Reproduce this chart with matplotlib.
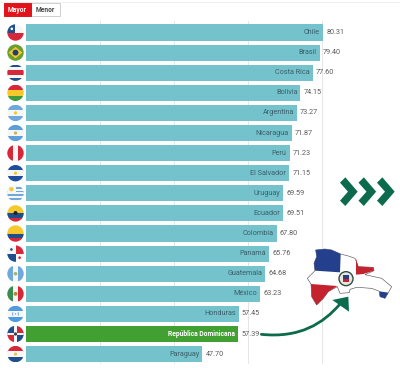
import matplotlib
matplotlib.use("Agg")
import matplotlib.pyplot as plt
from matplotlib.patches import Circle, Rectangle, Polygon, PathPatch
from matplotlib.path import Path

plt.rcParams['font.family'] = ['Roboto', 'DejaVu Sans']

countries = ["Chile", "Brasil", "Costa Rica", "Bolivia", "Argentina", "Nicaragua", "Perú",
             "El Salvador", "Uruguay", "Ecuador", "Colombia", "Panamá", "Guatemala", "México",
             "Honduras", "República Dominicana", "Paraguay"]
values = [80.31, 79.40, 77.60, 74.15, 73.27, 71.87, 71.23, 71.15, 69.59, 69.51, 67.80,
          65.76, 64.68, 63.23, 57.45, 57.39, 47.70]
highlight = "República Dominicana"
gridlines = [20, 40, 60, 80]
buttons = ["Mayor", "Menor"]

BAR = "#74c2cb"
GREEN = "#42a032"
ARROW = "#0c6b4c"
LABEL = "#3c5f6a"
VALUE = "#5b5b5b"
LB = "#6fa8dc"
BL = "#1f4e8c"
RD = "#d62839"
YL = "#f5c92e"
GR = "#3f9b3c"
WH = "#f6f6f6"

fig = plt.figure(figsize=(4.0, 3.68), dpi=100, facecolor="white")

# chart axes: value 0 sits at pixel 26, 3.7 px per unit; rows every 20.1 px from 32.5
PX = 3.70
ROW = 20.1
ax = fig.add_axes([0, 0, 1, 1])
ax.set_xlim(-26 / PX, (400 - 26) / PX)
ax.set_ylim((368 - 32.5) / ROW, -32.5 / ROW)
ax.axis("off")

for g in gridlines:
    ax.plot([g, g], [-0.55, 16.45], color="#e6e6e6", lw=0.7, zorder=1)

colors = [GREEN if c == highlight else BAR for c in countries]
ax.barh(range(len(countries)), values, height=0.8, color=colors, zorder=2)

for i, (c, v) in enumerate(zip(countries, values)):
    hl = c == highlight
    ax.annotate(c, (v, i), xytext=(-2.2, 0), textcoords="offset points", ha="right", va="center",
                fontsize=4.9 if hl else 5.2, color="white" if hl else LABEL,
                fontweight="bold" if hl else "normal", zorder=3)
    ax.annotate(f"{v:.2f}", (v, i), xytext=(2.2, 0), textcoords="offset points", ha="left", va="center",
                fontsize=5.2, color=VALUE, zorder=3)

# decoration overlay in pixel coordinates
ov = fig.add_axes([0, 0, 1, 1], facecolor="none")
ov.set_xlim(0, 400)
ov.set_ylim(368, 0)
ov.axis("off")

ov.plot([0, 400], [2, 2], color="#ececec", lw=0.6)

# buttons
ov.add_patch(Rectangle((31, 3), 28.5, 13, fc="white", ec="#cfcfcf", lw=0.7))
ov.add_patch(Rectangle((4, 3), 27, 13, fc="#e2131a", ec="#e2131a", lw=0.7))
ov.text(17.5, 9.8, buttons[0], color="white", fontsize=4.8, fontweight="bold", ha="center", va="center")
ov.text(45.5, 9.8, buttons[1], color="#444444", fontsize=4.8, fontweight="bold", ha="center", va="center")


def flag(i, kind):
    cy = 32.5 + i * ROW
    cx, r = 15.5, 8.2
    clip = Circle((cx, cy), r, transform=ov.transData)

    def rect(x0, y0, x1, y1, col):
        p = Rectangle((cx + x0 * r, cy + y0 * r), (x1 - x0) * r, (y1 - y0) * r, fc=col, ec="none")
        ov.add_patch(p)
        p.set_clip_path(clip)

    def hstr(cols, w=None):
        w = w or [1] * len(cols)
        t = sum(w)
        y = -1
        for col, k in zip(cols, w):
            rect(-1, y, 1, y + 2 * k / t + 0.02, col)
            y += 2 * k / t

    def vstr(cols):
        x = -1
        for col in cols:
            rect(x, -1, x + 2 / len(cols) + 0.02, 1, col)
            x += 2 / len(cols)

    def dot(col, s=0.25, dx=0, dy=0):
        p = Circle((cx + dx * r, cy + dy * r), s * r, fc=col, ec="none")
        ov.add_patch(p)
        p.set_clip_path(clip)

    if kind == "Chile":
        rect(-1, -1, 1, 0, WH); rect(-1, 0, 1, 1, RD); rect(-1, -1, -0.1, 0.02, BL); dot("white", 0.16, -0.45, -0.45)
    elif kind == "Brasil":
        rect(-1, -1, 1, 1, "#6a9e2d")
        p = Polygon([(cx - r * .85, cy), (cx, cy - r * .7), (cx + r * .85, cy), (cx, cy + r * .7)], fc=YL, ec="none")
        ov.add_patch(p); p.set_clip_path(clip); dot("#1d3f7a", 0.36)
    elif kind == "Costa Rica":
        hstr([BL, WH, RD, WH, BL], [1, 1, 2, 1, 1])
    elif kind == "Bolivia":
        hstr([RD, YL, GR])
    elif kind in ("Argentina", "Nicaragua", "El Salvador", "Honduras"):
        c = {"Argentina": LB, "Nicaragua": "#5f9fd8", "El Salvador": "#1f4e9c", "Honduras": "#4f9be0"}[kind]
        hstr([c, WH, c])
        if kind == "Honduras":
            for dx, dy in [(-.35, -.1), (.35, -.1), (0, 0), (-.35, .12), (.35, .12)]:
                dot("#4f9be0", 0.08, dx, dy)
        else:
            dot(YL if kind != "Nicaragua" else "#c9b458", 0.2)
    elif kind == "Perú":
        vstr([RD, WH, RD])
    elif kind == "Uruguay":
        hstr([WH, LB, WH, LB, WH, LB, WH, LB, WH]); rect(-1, -1, 0, 0, WH); dot(YL, 0.26, -0.5, -0.5)
    elif kind == "Ecuador":
        hstr([YL, BL, RD], [2, 1, 1]); dot("#222222", 0.24, 0, -0.05)
    elif kind == "Colombia":
        hstr([YL, BL, RD], [2, 1, 1])
    elif kind == "Panamá":
        rect(-1, -1, 0, 0, WH); rect(0, -1, 1, 0, RD); rect(-1, 0, 0, 1, BL); rect(0, 0, 1, 1, WH)
        dot(BL, 0.16, -0.5, -0.5); dot(RD, 0.16, 0.5, 0.5)
    elif kind == "Guatemala":
        vstr([LB, WH, LB]); dot("#a8b46a", 0.22)
    elif kind == "México":
        vstr(["#3a8c50", WH, RD]); dot("#b8863b", 0.24)
    elif kind == "República Dominicana":
        rect(-1, -1, 0, 0, BL); rect(0, -1, 1, 0, RD); rect(-1, 0, 0, 1, RD); rect(0, 0, 1, 1, BL)
        rect(-1, -.16, 1, .16, WH); rect(-.16, -1, .16, 1, WH); dot("#3a3a4a", 0.2)
    elif kind == "Paraguay":
        hstr([RD, WH, BL]); dot("#e6c65a", 0.2)


for i, c in enumerate(countries):
    flag(i, c)


# chevrons, arrow and map are traced in a 3x grid anchored at pixel (200, 150)
def Z(pts):
    return [(200 + x / 3, 150 + y / 3) for x, y in pts]


for dx in (0, 55.5, 111):
    ov.add_patch(Polygon(Z([(420 + dx, 98), (436 + dx, 82), (473 + dx, 125), (436 + dx, 168),
                            (420 + dx, 152), (444 + dx, 125)]), fc=ARROW, ec="none"))

v = Z([(184, 553), (300, 565), (370, 520), (420, 462)])
ov.add_patch(PathPatch(Path(v, [Path.MOVETO, Path.CURVE4, Path.CURVE4, Path.CURVE4]),
                       fc="none", ec=ARROW, lw=2.0, capstyle="round"))
ov.add_patch(Polygon(Z([(397, 450), (445, 440), (447, 485)]), fc=ARROW, ec="none"))

OUT = "#444444"
ov.add_patch(Polygon(Z([(322, 385), (345, 362), (342, 340), (350, 320), (347, 300), (375, 297), (395, 300),
                        (422, 312), (445, 318), (465, 325), (475, 350), (520, 352), (522, 362), (495, 374),
                        (545, 385), (575, 410), (565, 428), (555, 445), (540, 440), (538, 424), (515, 415),
                        (470, 412), (450, 418), (448, 428), (420, 430), (412, 410), (385, 425), (370, 445),
                        (350, 465), (335, 440), (333, 402)]), fc="white", ec=OUT, lw=0.4))
ov.add_patch(Polygon(Z([(347, 300), (375, 297), (395, 300), (422, 312), (420, 367), (345, 362), (342, 340),
                        (350, 320)]), fc="#243f8c", ec="none"))
ov.add_patch(Polygon(Z([(468, 326), (475, 350), (520, 352), (522, 362), (490, 372), (468, 374)]),
                     fc="#c4222f", ec="none"))
ov.add_patch(Polygon(Z([(333, 402), (412, 408), (385, 425), (370, 445), (350, 465), (335, 440)]),
                     fc="#c4222f", ec="none"))
ov.add_patch(Polygon(Z([(538, 424), (565, 428), (555, 445), (540, 440)]), fc="#243f8c", ec="none"))
cx, cy = Z([(438, 386)])[0]
ov.add_patch(Circle((cx, cy), 7, fc="#e8e8e0", ec="#2f4f3f", lw=1.0))
ov.add_patch(Rectangle((cx - 3, cy - 3.5), 6, 3.5, fc="#243f8c", ec="none"))
ov.add_patch(Rectangle((cx - 3, cy), 6, 3.5, fc="#c4222f", ec="none"))

fig.savefig("out.png", dpi=100)
